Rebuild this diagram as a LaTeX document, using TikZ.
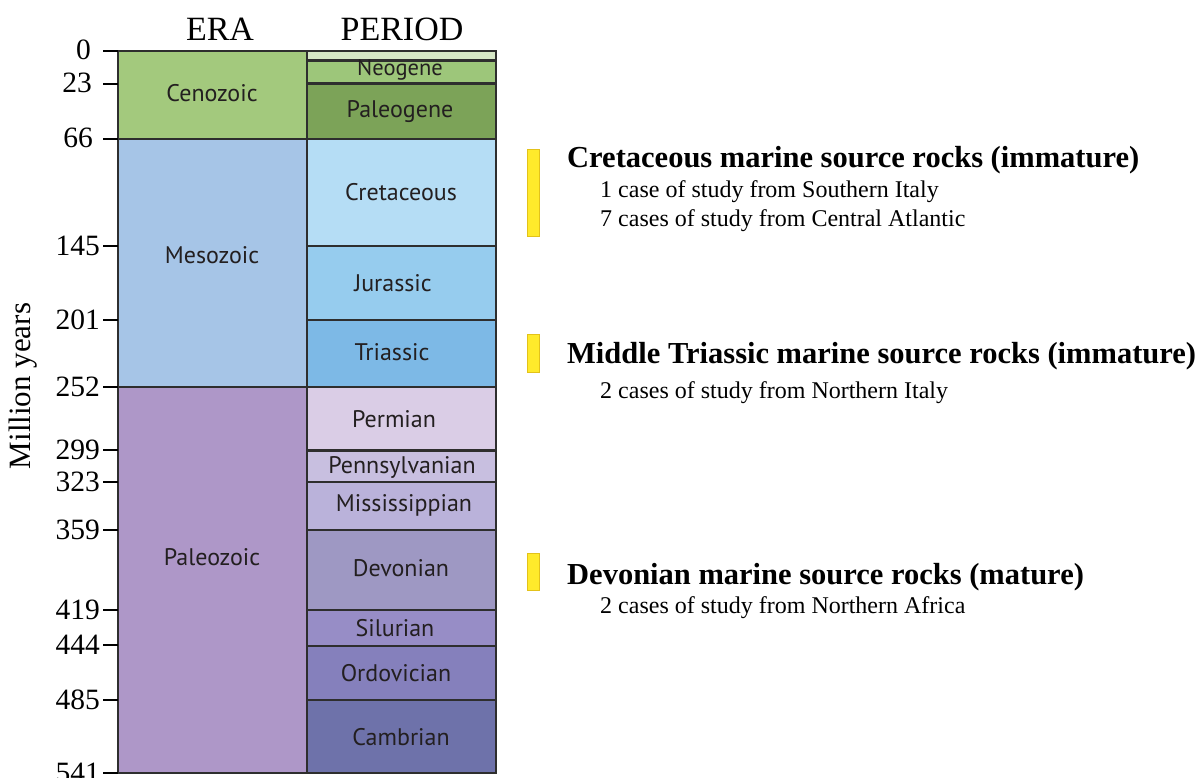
\documentclass[tikz,border=0pt]{standalone}
\usepackage{fontspec}
\setmainfont{Liberation Serif}
\newfontfamily\lab{PT Sans}
\definecolor{lc}{HTML}{2E2E2E}
\definecolor{labc}{HTML}{231F20}
\definecolor{ceno}{HTML}{A3C97D}
\definecolor{quat}{HTML}{D6E7C6}
\definecolor{neog}{HTML}{9DC67A}
\definecolor{paleog}{HTML}{7CA358}
\definecolor{meso}{HTML}{A6C5E7}
\definecolor{cret}{HTML}{B5DDF5}
\definecolor{jura}{HTML}{96CCEE}
\definecolor{tria}{HTML}{7DB9E6}
\definecolor{paleo}{HTML}{AE97C8}
\definecolor{perm}{HTML}{DACDE6}
\definecolor{penn}{HTML}{C8BFE0}
\definecolor{miss}{HTML}{BAB2DA}
\definecolor{devo}{HTML}{9E98C3}
\definecolor{silu}{HTML}{978DC6}
\definecolor{ordo}{HTML}{8580BC}
\definecolor{camb}{HTML}{6E72AA}
\definecolor{ybar}{HTML}{FFEA2B}
\definecolor{ybord}{HTML}{E3C21A}
\tikzset{
  era/.style={draw=lc, line width=1.5pt},
  per/.style={draw=lc, line width=2pt},
  tick/.style={draw=black, line width=1.3pt},
  num/.style={anchor=base east, inner sep=0pt, font=\fontsize{29.5}{32}\selectfont},
  head/.style={anchor=base, inner sep=0pt, font=\fontsize{34}{38}\selectfont},
  lbl/.style={inner sep=0pt, text=labc, font=\lab\fontsize{24}{26}\selectfont},
  ybarst/.style={fill=ybar, draw=ybord, line width=1pt},
  ttl/.style={anchor=base west, inner sep=0pt, font=\bfseries\fontsize{30.5}{34}\selectfont},
  sub/.style={anchor=base west, inner sep=0pt, font=\fontsize{24}{27}\selectfont}
}
\begin{document}
\begin{tikzpicture}[x=1pt,y=-1pt]
\useasboundingbox (0,0) rectangle (1202,778);
\fill[white] (0,0) rectangle (1202,778);
% eras
\filldraw[era, fill=ceno] (118,51) rectangle (307,139);
\filldraw[era, fill=meso] (118,139) rectangle (307,387);
\filldraw[era, fill=paleo] (118,387) rectangle (307,773);
% periods
\filldraw[per, fill=quat] (307,51) rectangle (496,60);
\filldraw[per, fill=neog] (307,61) rectangle (496,83);
\filldraw[per, fill=paleog] (307,84) rectangle (496,139);
\filldraw[per, fill=cret] (307,139) rectangle (496,246);
\filldraw[per, fill=jura] (307,246) rectangle (496,320);
\filldraw[per, fill=tria] (307,320) rectangle (496,387);
\filldraw[per, fill=perm] (307,387) rectangle (496,450);
\filldraw[per, fill=penn] (307,451) rectangle (496,482);
\filldraw[per, fill=miss] (307,482) rectangle (496,530);
\filldraw[per, fill=devo] (307,530) rectangle (496,610);
\filldraw[per, fill=silu] (307,610) rectangle (496,646);
\filldraw[per, fill=ordo] (307,646) rectangle (496,700);
\filldraw[per, fill=camb] (307,700) rectangle (496,773);
% era labels
\node[lbl] (cenozoic) at (212,93) {Cenozoic};
\node[lbl] (mesozoic) at (212,255) {Mesozoic};
\node[lbl] (paleozoic) at (212,557) {Paleozoic};
% period labels
\node[lbl, font=\lab\fontsize{22.5}{24}\selectfont] (neogene) at (400,70) {Neogene};
\node[lbl] (paleogene) at (400,112) {Paleogene};
\node[lbl] (cretaceous) at (401,192) {Cretaceous};
\node[lbl] (jurassic) at (393,283) {Jurassic};
\node[lbl] (triassic) at (392,352) {Triassic};
\node[lbl] (permian) at (394,419) {Permian};
\node[lbl] (pennsylvanian) at (402,467) {Pennsylvanian};
\node[lbl] (mississippian) at (404,505) {Mississippian};
\node[lbl] (devonian) at (401,568) {Devonian};
\node[lbl] (silurian) at (395,628) {Silurian};
\node[lbl] (ordovician) at (396,673) {Ordovician};
\node[lbl] (cambrian) at (401,737) {Cambrian};
% ticks
\foreach \y in {51,84,139,246,320,387,450,482,530,610,645,700,773}
  \draw[tick] (103,\y) -- (118,\y);
\node[num] (n0) at (91,60) {0};
\node[num] (n23) at (92,93) {23};
\node[num] (n66) at (93,148) {66};
\node[num] (n145) at (100,255) {145};
\node[num] (n201) at (100,329) {201};
\node[num] (n252) at (100,396) {252};
\node[num] (n299) at (100,459) {299};
\node[num] (n323) at (100,491) {323};
\node[num] (n359) at (100,539) {359};
\node[num] (n419) at (100,619) {419};
\node[num] (n444) at (100,654) {444};
\node[num] (n485) at (100,709) {485};
\node[num] (n541) at (100,782) {541};
% axis title and headers
\node[rotate=90, inner sep=0pt, font=\fontsize{31}{34}\selectfont] (myears) at (23,386) {Million years};
\node[head] (era) at (220,41) {ERA};
\node[head] (period) at (402,41) {PERIOD};
% yellow bars
\filldraw[ybarst] (527,150) rectangle (539,237);
\filldraw[ybarst] (527,334) rectangle (539,372);
\filldraw[ybarst] (527,553) rectangle (539,590);
% annotations
\node[ttl] (t1) at (567,168) {Cretaceous marine source rocks (immature)};
\node[sub] (s1a) at (600,198) {1 case of study from Southern Italy};
\node[sub] (s1b) at (600,226) {7 cases of study from Central Atlantic};
\node[ttl] (t2) at (567,363) {Middle Triassic marine source rocks (immature)};
\node[sub] (s2) at (600,398) {2 cases of study from Northern Italy};
\node[ttl] (t3) at (567,584) {Devonian marine source rocks (mature)};
\node[sub] (s3) at (600,613) {2 cases of study from Northern Africa};
\end{tikzpicture}
\end{document}
